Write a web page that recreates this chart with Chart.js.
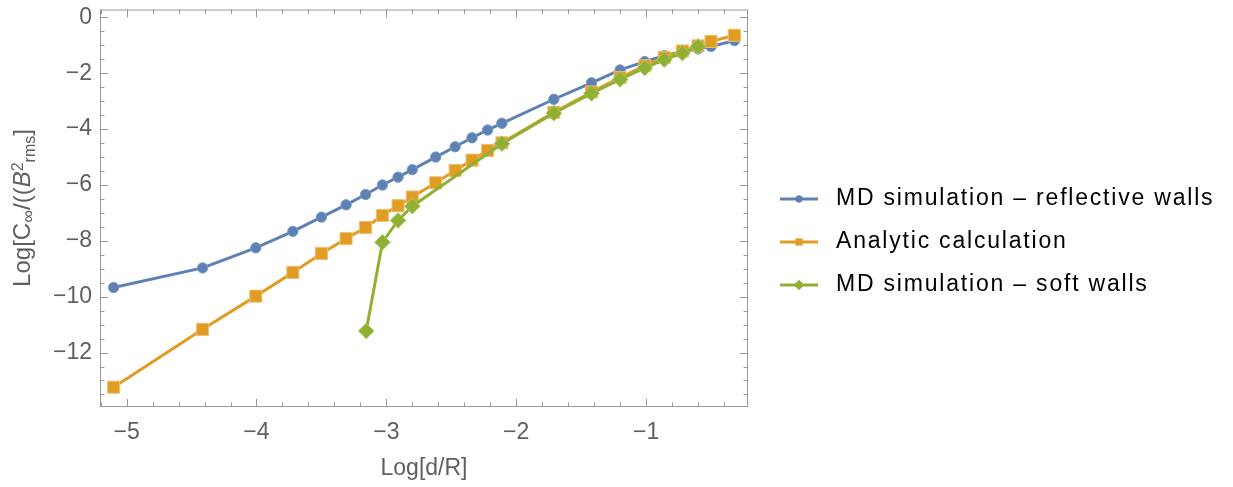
<!DOCTYPE html>
<html>
<head>
<meta charset="utf-8">
<script src="https://cdn.jsdelivr.net/npm/chart.js@4.4.0/dist/chart.umd.min.js"></script>
<style>
  html, body { margin: 0; padding: 0; background: #fff; }
</style>
</head>
<body>
<canvas id="chartLogC" width="1233" height="487"></canvas>
<script>
// d/R sample points (Log) shared by the reflective-wall run and the analytic curve
var xMD = [-5.1, -4.415, -4.005, -3.72, -3.5, -3.31, -3.16, -3.03, -2.91, -2.8, -2.62, -2.47,
  -2.34, -2.22, -2.11, -1.71, -1.42, -1.2, -1.01, -0.86, -0.72, -0.6, -0.5, -0.32];
var yReflective = [-9.67, -8.97, -8.25, -7.66, -7.15, -6.71, -6.34, -6.0, -5.72, -5.45, -5.0, -4.63,
  -4.31, -4.03, -3.79, -2.93, -2.34, -1.88, -1.58, -1.37, -1.22, -1.12, -1.04, -0.83];
var yAnalytic = [-13.24, -11.17, -9.98, -9.13, -8.45, -7.92, -7.52, -7.09, -6.74, -6.43, -5.92, -5.48,
  -5.11, -4.76, -4.49, -3.4, -2.67, -2.15, -1.73, -1.43, -1.2, -1.02, -0.86, -0.64];
// soft walls run has fewer points
var xSoft = [-3.155, -3.03, -2.91, -2.8, -2.11, -1.71, -1.42, -1.2, -1.01, -0.86, -0.72, -0.6];
var ySoft = [-11.23, -8.05, -7.27, -6.76, -4.52, -3.43, -2.72, -2.22, -1.81, -1.51, -1.28, -1.04];

var xTicks = [-5, -4, -3, -2, -1];
var yTicks = [0, -2, -4, -6, -8, -10, -12];
var seriesLabels = ["MD simulation \u2013 reflective walls", "Analytic calculation", "MD simulation \u2013 soft walls"];

var fontFamily = "'Liberation Sans', Arial, sans-serif";
var axisGray = "#5f5f5f";
var frameGray = "#999";

function toPoints(xs, ys) {
  return xs.map(function (x, i) {
    return { x: x, y: ys[i] };
  });
}

function minusLabel(v) {
  return v < 0 ? "\u2212" + Math.abs(v) : String(v);
}

// frame with inside ticks on all four sides, like Mathematica's Frame -> True
var frameTicks = {
  id: "frameTicks",
  afterDatasetsDraw: function (chart) {
    var ctx = chart.ctx;
    var a = chart.chartArea;
    var xs = chart.scales.x, ys = chart.scales.y;
    ctx.save();
    ctx.strokeStyle = frameGray;
    ctx.lineWidth = 1;
    ctx.strokeRect(a.left + 0.5, a.top + 0.5, a.right - a.left - 1, a.bottom - a.top - 1);
    ctx.beginPath();
    for (var i = -52; i <= -2; i += 2) {
      var v = i / 10;
      var len = (i % 10 === 0) ? 8 : 4.5;
      var px = Math.round(xs.getPixelForValue(v)) + 0.5;
      if (px < a.left || px > a.right) continue;
      ctx.moveTo(px, a.bottom); ctx.lineTo(px, a.bottom - len);
      ctx.moveTo(px, a.top); ctx.lineTo(px, a.top + len);
    }
    for (var j = -27; j <= 0; j++) {
      var w = j / 2;
      var ylen = (j % 4 === 0) ? 8 : 4.5;
      var py = Math.round(ys.getPixelForValue(w)) + 0.5;
      ctx.moveTo(a.left, py); ctx.lineTo(a.left + ylen, py);
      ctx.moveTo(a.right, py); ctx.lineTo(a.right - ylen, py);
    }
    ctx.stroke();
    ctx.restore();
  }
};

// rotated y title with sub/superscripts
var yTitle = {
  id: "yTitle",
  afterDraw: function (chart) {
    var ctx = chart.ctx;
    var big = "24px " + fontFamily, small = "16px " + fontFamily;
    var parts = [
      { t: "Log[C", f: big, dy: 0 },
      { t: "\u221E", f: "18px " + fontFamily, dy: 4 },
      { t: "/((", f: big, dy: 0 },
      { t: "B", f: "italic " + big, dy: 0 },
      { t: "2", f: small, dy: -7 },
      { t: "rms", f: small, dy: 5 },
      { t: "]", f: big, dy: 0 }
    ];
    ctx.save();
    var total = 0;
    parts.forEach(function (p) {
      ctx.font = p.f;
      p.w = ctx.measureText(p.t).width;
      total += p.w;
    });
    ctx.translate(30, 208);
    ctx.rotate(-Math.PI / 2);
    ctx.fillStyle = axisGray;
    ctx.textBaseline = "alphabetic";
    var x = -total / 2;
    parts.forEach(function (p) {
      ctx.font = p.f;
      ctx.fillText(p.t, x, p.dy);
      x += p.w;
    });
    ctx.restore();
  }
};

// legend: line sample with marker, text to the right
var sideLegend = {
  id: "sideLegend",
  afterDraw: function (chart) {
    var ctx = chart.ctx;
    var rows = [199, 242, 285];
    var sizes = [3.4, 4.8, 5];
    ctx.save();
    chart.data.datasets.forEach(function (ds, i) {
      var y = rows[i];
      ctx.strokeStyle = ds.borderColor;
      ctx.lineWidth = 3;
      ctx.beginPath();
      ctx.moveTo(780, y);
      ctx.lineTo(818, y);
      ctx.stroke();
      ctx.fillStyle = ds.borderColor;
      Chart.helpers.drawPoint(ctx, { pointStyle: ds.pointStyle, radius: sizes[i], borderWidth: 0 }, 799, y);
      ctx.fill();
      ctx.fillStyle = "#000";
      ctx.font = "23px " + fontFamily;
      ctx.letterSpacing = "1.8px";
      ctx.textBaseline = "middle";
      ctx.textAlign = "left";
      ctx.fillText(ds.label, 836, y);
      ctx.letterSpacing = "0px";
    });
    ctx.restore();
  }
};

var chartLogC = new Chart(document.getElementById("chartLogC"), {
  type: "scatter",
  data: {
    datasets: [
      {
        label: seriesLabels[0],
        data: toPoints(xMD, yReflective),
        showLine: true,
        borderColor: "#5E81B5",
        backgroundColor: "#5E81B5",
        pointBackgroundColor: "#5E81B5",
        pointBorderColor: "#7f9bc6",
        pointBorderWidth: 1,
        pointStyle: "circle",
        pointRadius: 5.2,
        borderWidth: 3,
        order: 3
      },
      {
        label: seriesLabels[1],
        data: toPoints(xMD, yAnalytic),
        showLine: true,
        borderColor: "#E19C24",
        backgroundColor: "#E19C24",
        pointBackgroundColor: "#E19C24",
        pointBorderColor: "#edbe70",
        pointBorderWidth: 1,
        pointStyle: "rect",
        pointRadius: 8.5,
        borderWidth: 3,
        order: 2
      },
      {
        label: seriesLabels[2],
        data: toPoints(xSoft, ySoft),
        showLine: true,
        borderColor: "#8FB032",
        backgroundColor: "#8FB032",
        pointBackgroundColor: "#8FB032",
        pointBorderColor: "#adc768",
        pointBorderWidth: 1,
        pointStyle: "rectRot",
        pointRadius: 7.8,
        borderWidth: 3,
        order: 1
      }
    ]
  },
  options: {
    responsive: false,
    devicePixelRatio: 1,
    animation: false,
    layout: { padding: { top: 6, right: 485, left: 0, bottom: 0 } },
    plugins: {
      legend: { display: false },
      tooltip: { enabled: false },
      title: { display: false }
    },
    scales: {
      x: {
        type: "linear",
        min: -5.205,
        max: -0.215,
        grid: { display: false, drawTicks: false },
        border: { display: false },
        afterBuildTicks: function (s) {
          s.ticks = xTicks.map(function (v) { return { value: v }; });
        },
        afterFit: function (s) {
          s.height = 80;
          s.paddingLeft = 0;
          s.paddingRight = 0;
        },
        ticks: {
          padding: 12,
          color: axisGray,
          font: { family: fontFamily, size: 23 },
          maxRotation: 0,
          callback: minusLabel
        },
        title: {
          display: true,
          text: "Log[d/R]",
          color: axisGray,
          font: { family: fontFamily, size: 23 },
          padding: { top: 0, bottom: 5 }
        }
      },
      y: {
        type: "linear",
        min: -13.95,
        max: 0.284,
        grid: { display: false, drawTicks: false },
        border: { display: false },
        afterBuildTicks: function (s) {
          s.ticks = yTicks.map(function (v) { return { value: v }; });
        },
        afterFit: function (s) {
          s.width = 100;
          s.paddingTop = 0;
          s.paddingBottom = 0;
        },
        ticks: {
          padding: 8,
          color: axisGray,
          font: { family: fontFamily, size: 23 },
          callback: minusLabel
        }
      }
    }
  },
  plugins: [frameTicks, yTitle, sideLegend]
});
</script>
</body>
</html>
